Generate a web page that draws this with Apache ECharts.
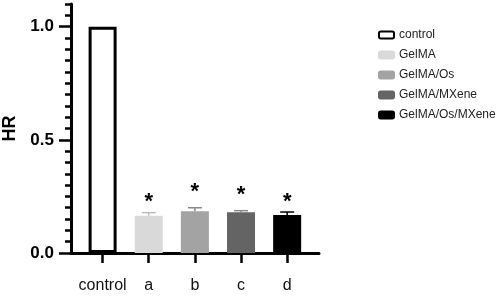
<!DOCTYPE html>
<html>
<head>
<meta charset="utf-8">
<script src="https://cdn.jsdelivr.net/npm/echarts@6/dist/echarts.min.js"></script>
<style>
  html, body { margin: 0; padding: 0; background: #fff; }
  #chart_001 { width: 498px; height: 297px; }
</style>
</head>
<body>
<div id="chart_001"></div>
<script>
// categories and groups
var categories = ['control', 'a', 'b', 'c', 'd'];
var groups = ['control', 'GelMA', 'GelMA/Os', 'GelMA/MXene', 'GelMA/Os/MXene'];
var colors = ['#ffffff', '#d9d9d9', '#a3a3a3', '#646464', '#000000'];
// HR values
var means = [1.0, 0.165, 0.184, 0.180, 0.168];
var errTops = [1.0, 0.178, 0.200, 0.187, 0.181];
var starAt = [null, 0.254, 0.296, 0.281, 0.250];
var majorTicks = [0, 0.5, 1.0];
var tickLabels = ['0.0', '0.5', '1.0'];

var FONT = 'Liberation Sans';
var myChart = echarts.init(document.getElementById('chart_001'));

var series = [];
for (var i = 0; i < groups.length; i++) {
    series.push({
        name: groups[i],
        type: 'bar',
        barWidth: 28,
        barGap: '-100%',
        data: [[i, means[i]]],
        itemStyle: {
            color: colors[i],
            borderColor: i === 0 ? '#000' : colors[i],
            borderWidth: 3
        }
    });
}

// error bars (upper half) and significance stars
series.push({
    type: 'custom',
    silent: true,
    z: 5,
    data: categories.map(function (c, i) { return [i, means[i], errTops[i], starAt[i]]; }),
    renderItem: function (params, api) {
        var i = api.value(0);
        var base = api.coord([i, api.value(1)]);
        var top = api.coord([i, api.value(2)]);
        var kids = [];
        if (i > 0) {
            var ec = i === 4 ? '#000' : (i === 1 ? '#bdbdbd' : '#8a8a8a');
            kids.push({ type: 'line', shape: { x1: top[0], y1: base[1], x2: top[0], y2: top[1] }, style: { stroke: ec, lineWidth: 1.5 } });
            kids.push({ type: 'line', shape: { x1: top[0] - 7, y1: top[1], x2: top[0] + 7, y2: top[1] }, style: { stroke: ec, lineWidth: 1.5 } });
        }
        var s = api.value(3);
        if (s != null && !isNaN(s)) {
            var p = api.coord([i, s]);
            kids.push({ type: 'text', x: p[0], y: p[1] + 6, style: { text: '*', fill: '#000', font: 'bold 22px ' + FONT, textAlign: 'center', textVerticalAlign: 'middle' } });
        }
        return { type: 'group', children: kids };
    }
});

var option = {
    animation: false,
    backgroundColor: '#fff',
    grid: { left: 70, right: 179, top: 4, bottom: 44 },
    legend: {
        orient: 'vertical',
        left: 373,
        top: 24,
        itemWidth: 15,
        itemHeight: 7,
        itemGap: 8,
        data: groups,
        textStyle: { fontFamily: FONT, fontSize: 12, color: '#222' }
    },
    xAxis: {
        type: 'value',
        min: -0.685,
        max: 4.69,
        splitLine: { show: false },
        axisLine: { show: true, onZero: false, lineStyle: { color: '#000', width: 3 } },
        axisTick: { show: true, customValues: [0, 1, 2, 3, 4], length: 10, lineStyle: { color: '#000', width: 2.5 } },
        axisLabel: {
            customValues: [0, 1, 2, 3, 4],
            margin: 25,
            fontFamily: FONT, fontSize: 16, color: '#111',
            formatter: function (v) { return categories[Math.round(v)]; }
        }
    },
    yAxis: [
        {
            type: 'value',
            min: 0,
            max: 1.1,
            name: 'HR',
            nameLocation: 'middle',
            nameGap: 52,
            nameTextStyle: { fontFamily: FONT, fontSize: 18, fontWeight: 'bold', color: '#000' },
            splitLine: { show: false },
            axisLine: { show: true, onZero: false, lineStyle: { color: '#000', width: 3 } },
            axisTick: { show: true, customValues: majorTicks, length: 12, lineStyle: { color: '#000', width: 2.5 } },
            axisLabel: {
                customValues: majorTicks,
                margin: 17,
                fontFamily: FONT, fontSize: 17, fontWeight: 'bold', color: '#000',
                formatter: function (v) { return tickLabels[majorTicks.indexOf(Math.round(v * 10) / 10)]; }
            }
        },
        {
            // minor ticks every 0.05
            type: 'value',
            min: 0,
            max: 1.1,
            interval: 0.05,
            position: 'left',
            splitLine: { show: false },
            axisLine: { show: false, onZero: false },
            axisTick: { show: true, length: 6, lineStyle: { color: '#000', width: 2.5 } },
            axisLabel: { show: false }
        }
    ],
    series: series
};

myChart.setOption(option);
</script>
</body>
</html>
